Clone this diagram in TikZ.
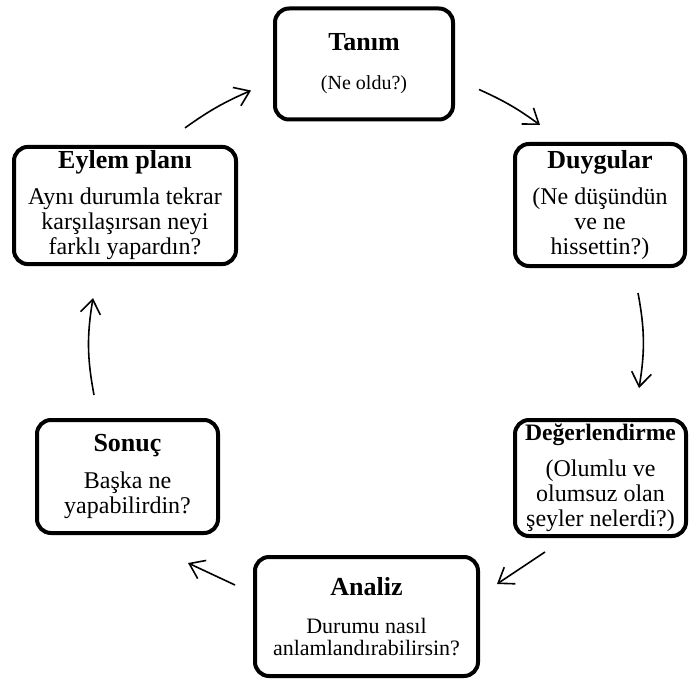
\documentclass[tikz,border=0pt]{standalone}
\usepackage{fontspec}
\setmainfont{Liberation Serif}
\usetikzlibrary{arrows.meta,positioning}

\begin{document}
\begin{tikzpicture}[x=0.5pt, y=-0.5pt, >={Straight Barb[length=7pt,width=10pt]},
  box/.style={draw, line width=2pt, rounded corners=7pt, align=center, inner sep=2pt,
    font=\fontsize{12}{12.5}\selectfont},
  arr/.style={->, line width=0.8pt}]
\useasboundingbox (0,0) rectangle (689,684);

% the six steps
\node[box, minimum width=89pt, minimum height=55.5pt, font=\fontsize{10}{11}\selectfont] (tanim) at (364,64)
  {\textbf{\fontsize{13}{13}\selectfont Tanım}\\[8.5pt](Ne oldu?)};
\node[box, minimum width=85pt, minimum height=61pt] (duygu) at (600,205)
  {\textbf{\fontsize{13}{13}\selectfont Duygular}\\[5.5pt](Ne düşündün\\ve ne\\hissettin?)};
\node[box, minimum width=85.5pt, minimum height=58pt] (deger) at (600.5,478)
  {\textbf{\fontsize{11.8}{12}\selectfont Değerlendirme}\\[5.5pt](Olumlu ve\\olumsuz olan\\şeyler nelerdi?)};
\node[box, minimum width=111.5pt, minimum height=59.5pt, font=\fontsize{11}{11}\selectfont] (analiz) at (366.5,616.5)
  {\textbf{\fontsize{13}{13}\selectfont Analiz}\\[8pt]Durumu nasıl\\anlamlandırabilirsin?};
\node[box, minimum width=90.5pt, minimum height=56.5pt] (sonuc) at (127.5,476.5)
  {\textbf{\fontsize{13}{13}\selectfont Sonuç}\\[6pt]Başka ne\\yapabilirdin?};
\node[box, minimum width=111pt, minimum height=55.5pt] (eylem) at (125,205.5)
  {\textbf{\fontsize{13}{13}\selectfont Eylem planı}\\[5.5pt]Aynı durumla tekrar\\karşılaşırsan neyi\\farklı yapardın?};

% cycle arrows
\draw[arr] ([shift={(60,-17)}]eylem.north) to[bend left=6] ([shift={(-22,26.5)}]tanim.west);
\draw[arr] ([shift={(24,25.5)}]tanim.east) to[bend left=6] ([shift={(-60,-17)}]duygu.north);
\draw[arr] ([shift={(38,25)}]duygu.south) to[bend left=10] ([shift={(38.5,-30)}]deger.north);
\draw[arr] ([shift={(-55.5,14)}]deger.south) -- ([shift={(17,-32.5)}]analiz.east);
\draw[arr] ([shift={(-18,-31.5)}]analiz.west) -- ([shift={(60.5,28)}]sonuc.south);
\draw[arr] ([shift={(-33.5,-23)}]sonuc.north) to[bend left=10] ([shift={(-32,32)}]eylem.south);
\end{tikzpicture}
\end{document}
